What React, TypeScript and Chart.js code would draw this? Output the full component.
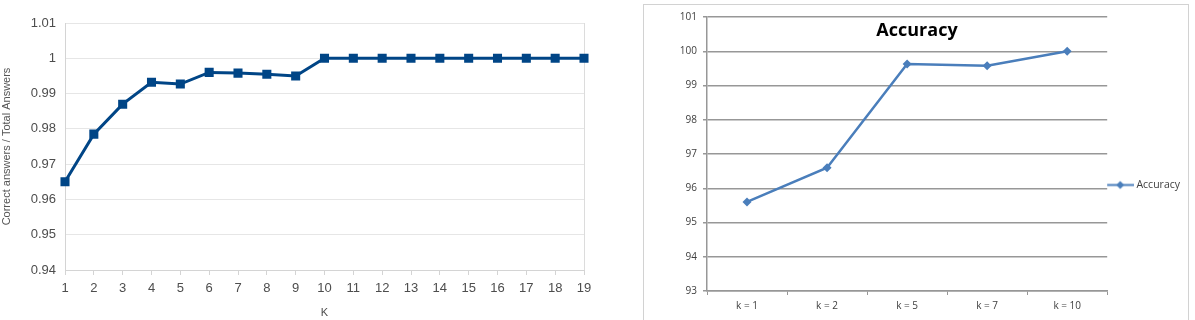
import React, { useEffect, useRef } from 'react';
import { Chart, registerables } from 'chart.js';

Chart.register(...registerables);

// ---- Left chart data ----
const kLabels = ['1', '2', '3', '4', '5', '6', '7', '8', '9', '10', '11', '12', '13', '14', '15', '16', '17', '18', '19'];
const correctRatio = [0.965, 0.9785, 0.987, 0.9932, 0.9927, 0.996, 0.9958, 0.9955, 0.995, 1, 1, 1, 1, 1, 1, 1, 1, 1, 1];
const ratioMin = 0.94;
const ratioMax = 1.01;
const ratioStep = 0.01;

// ---- Right chart data ----
const accuracyLabels = ['k = 1', 'k = 2', 'k = 5', 'k = 7', 'k = 10'];
const accuracyValues = [95.6, 96.6, 99.63, 99.58, 100];
const accuracyMin = 93;
const accuracyMax = 101;
const accuracyStep = 1;

const LEFT_BLUE = '#004586';
const RIGHT_BLUE = '#4a7ebb';

function makeLegendSymbol(): HTMLCanvasElement {
  const c = document.createElement('canvas');
  c.width = 28;
  c.height = 11;
  const g = c.getContext('2d')!;
  g.strokeStyle = RIGHT_BLUE;
  g.lineWidth = 2;
  g.beginPath();
  g.moveTo(0, 5.5);
  g.lineTo(28, 5.5);
  g.stroke();
  g.fillStyle = RIGHT_BLUE;
  g.beginPath();
  g.moveTo(14, 1.5);
  g.lineTo(18, 5.5);
  g.lineTo(14, 9.5);
  g.lineTo(10, 5.5);
  g.closePath();
  g.fill();
  return c;
}

export default function App() {
  const leftRef = useRef<HTMLCanvasElement>(null);
  const rightRef = useRef<HTMLCanvasElement>(null);

  useEffect(() => {
    const leftFont = "'Liberation Sans', Arial, sans-serif";
    const left = new Chart(leftRef.current!, {
      type: 'line',
      data: {
        labels: kLabels,
        datasets: [
          {
            label: 'Correct answers / Total Answers',
            data: correctRatio,
            borderColor: LEFT_BLUE,
            backgroundColor: LEFT_BLUE,
            borderWidth: 3,
            pointStyle: 'rect',
            pointRadius: 6.4,
            pointBorderWidth: 0,
            tension: 0,
          },
        ],
      },
      options: {
        animation: false,
        responsive: false,
        events: [],
        layout: { padding: { top: 23, right: 16, left: 0, bottom: 0 } },
        plugins: { legend: { display: false }, tooltip: { enabled: false } },
        scales: {
          x: {
            offset: false,
            afterFit: (s: any) => {
              s.height = 50;
            },
            grid: {
              color: (c: any) => (c.index === kLabels.length - 1 ? '#dcdcdc' : 'rgba(0,0,0,0)'),
              tickColor: '#d4d4d4',
              tickLength: 5,
            },
            border: { color: '#d4d4d4' },
            ticks: {
              color: '#4d4d4d',
              font: { family: leftFont, size: 13 },
              padding: 6,
              maxRotation: 0,
              autoSkip: false,
            },
            title: {
              display: true,
              text: 'K',
              color: '#4d4d4d',
              font: { family: leftFont, size: 11 },
              padding: { top: 0, bottom: 0 },
            },
          },
          y: {
            min: ratioMin,
            max: ratioMax,
            afterFit: (s: any) => {
              s.width = 65;
            },
            grid: { color: '#e6e6e6', drawTicks: false },
            border: { color: '#d4d4d4' },
            ticks: {
              stepSize: ratioStep,
              color: '#4d4d4d',
              font: { family: leftFont, size: 13 },
              padding: 9,
              callback: (v: any) => String(Math.round(Number(v) * 100) / 100),
            },
            title: {
              display: true,
              text: 'Correct answers / Total Answers',
              color: '#555555',
              font: { family: leftFont, size: 11 },
              padding: { top: 0.5, bottom: 0 },
            },
          },
        },
      },
    });

    const rightFont = "'Open Sans', 'DejaVu Sans', sans-serif";
    const legendFontSize = 10.5;
    const legendPadding = 2;
    const legendBox = 22;
    const rightPad = 12;
    const plotRight = 464;
    const measure = document.createElement('canvas').getContext('2d')!;
    measure.font = `${legendFontSize}px ${rightFont}`;
    const textW = measure.measureText('Accuracy').width;
    const legendW = legendPadding + legendBox + legendFontSize / 2 + textW + 10;
    const rc = rightRef.current!;
    rc.width = Math.round(plotRight + legendW + rightPad);
    rc.height = 348;

    const gridGray = '#979797';
    const right = new Chart(rc, {
      type: 'line',
      data: {
        labels: accuracyLabels,
        datasets: [
          {
            label: 'Accuracy',
            data: accuracyValues,
            borderColor: RIGHT_BLUE,
            backgroundColor: RIGHT_BLUE,
            borderWidth: 2.5,
            pointStyle: 'rectRot',
            pointRadius: 4.5,
            pointBorderWidth: 0,
            tension: 0,
          },
        ],
      },
      options: {
        animation: false,
        responsive: false,
        events: [],
        layout: { padding: { top: 12, right: rightPad, left: 0, bottom: 0 } },
        plugins: {
          tooltip: { enabled: false },
          legend: {
            display: true,
            position: 'right',
            align: 'center',
            fullSize: true,
            labels: {
              usePointStyle: true,
              pointStyle: makeLegendSymbol() as any,
              pointStyleWidth: legendBox,
              padding: legendPadding,
              color: '#404040',
              font: { family: rightFont, size: legendFontSize },
            },
          },
        },
        scales: {
          x: {
            offset: true,
            afterFit: (s: any) => {
              s.height = 62;
            },
            grid: {
              offset: true,
              drawOnChartArea: false,
              color: gridGray,
              tickLength: 4,
            },
            border: { color: gridGray, width: 1.5 },
            ticks: {
              color: '#404040',
              font: { family: rightFont, size: 10 },
              padding: 5,
              maxRotation: 0,
              autoSkip: false,
            },
          },
          y: {
            min: accuracyMin,
            max: accuracyMax,
            afterFit: (s: any) => {
              s.width = 64;
            },
            grid: { color: gridGray, lineWidth: 1.5, tickLength: 4 },
            border: { color: gridGray, width: 1.5 },
            ticks: {
              stepSize: accuracyStep,
              color: '#404040',
              font: { family: rightFont, size: 10 },
              padding: 6,
            },
          },
        },
      },
    });

    return () => {
      left.destroy();
      right.destroy();
    };
  }, []);

  return (
    <div
      style={{
        position: 'fixed',
        left: 0,
        top: 0,
        width: 1195,
        height: 320,
        overflow: 'hidden',
        background: '#ffffff',
      }}
    >
      <canvas ref={leftRef} width={600} height={320} style={{ position: 'absolute', left: 0, top: 0 }} />
      <div
        style={{
          position: 'absolute',
          left: 643,
          top: 4,
          width: 546,
          height: 340,
          border: '1px solid #d2d2d2',
          boxSizing: 'border-box',
        }}
      />
      <canvas ref={rightRef} width={546} height={348} style={{ position: 'absolute', left: 643, top: 5 }} />
      <div
        style={{
          position: 'absolute',
          left: 857,
          top: 17,
          width: 120,
          textAlign: 'center',
          fontFamily: "'Open Sans', sans-serif",
          fontWeight: 700,
          fontSize: 18,
          lineHeight: '24px',
          color: '#000000',
        }}
      >
        Accuracy
      </div>
    </div>
  );
}
